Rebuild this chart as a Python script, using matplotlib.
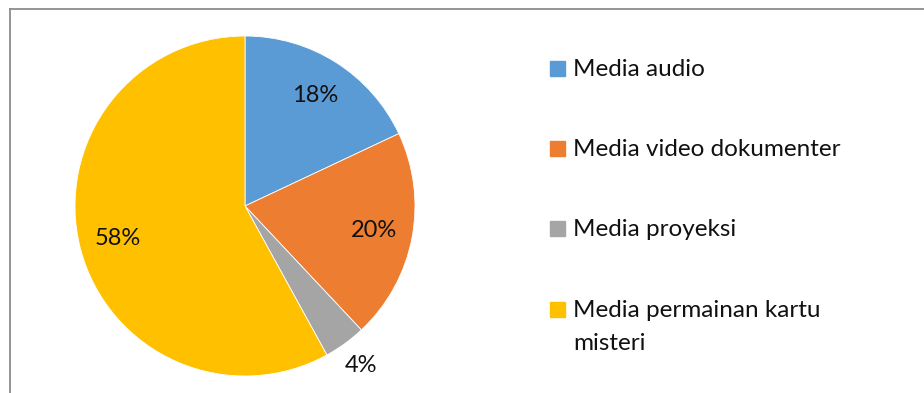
import numpy as np
import matplotlib
matplotlib.use("Agg")
import matplotlib.pyplot as plt
from matplotlib.lines import Line2D
from matplotlib.patches import Rectangle

# --- data ---
categories = ["Media audio", "Media video dokumenter", "Media proyeksi",
              "Media permainan kartu\nmisteri"]
shares = [18, 20, 4, 58]
colors = ["#5B9BD5", "#ED7D31", "#A5A5A5", "#FFC000"]

plt.rcParams["font.family"] = ["Lato", "DejaVu Sans"]

W, H = 924, 393
fig = plt.figure(figsize=(W / 100, H / 100), dpi=100)

# chart frame (cropped: only top and left edges visible)
fig.add_artist(Line2D([10 / W, 1], [1 - 9 / H, 1 - 9 / H], color="#8c8c8c", lw=1.3))
fig.add_artist(Line2D([10 / W, 10 / W], [0, 1 - 9 / H], color="#8c8c8c", lw=1.3))

# pie
cx, cy, r = 245, H - 206, 170
ax = fig.add_axes([(cx - r) / W, (cy - r) / H, 2 * r / W, 2 * r / H])
wedges, texts, autotexts = ax.pie(
    shares, colors=colors, startangle=90, counterclock=False, radius=1,
    autopct="%1.0f%%", pctdistance=0.77,
    wedgeprops=dict(edgecolor="white", linewidth=0.6),
    textprops=dict(fontsize=17, color="#111111"))
ax.set_xlim(-1, 1)
ax.set_ylim(-1, 1)
ax.set_aspect("equal")
ax.axis("off")

# small slice label goes outside
for w, t, s in zip(wedges, autotexts, shares):
    if s < 10:
        ang = np.deg2rad((w.theta1 + w.theta2) / 2)
        t.set_position((1.16 * np.cos(ang), 1.16 * np.sin(ang)))

# legend drawn by hand (baseline aligns to last line of a wrapped label)
baselines = [76, 156, 236, 317]
line_gap = 33
for lab, col, yy in zip(categories, colors, baselines):
    fig.add_artist(Rectangle((550 / W, 1 - yy / H), 15 / W, 15 / H,
                             transform=fig.transFigure, color=col))
    extra = lab.count("\n") * line_gap
    fig.text(573 / W, 1 - (yy + extra) / H, lab, fontsize=17.5, color="#111111",
             va="baseline", ha="left", linespacing=1.68)

fig.savefig("out.png", dpi=100)
